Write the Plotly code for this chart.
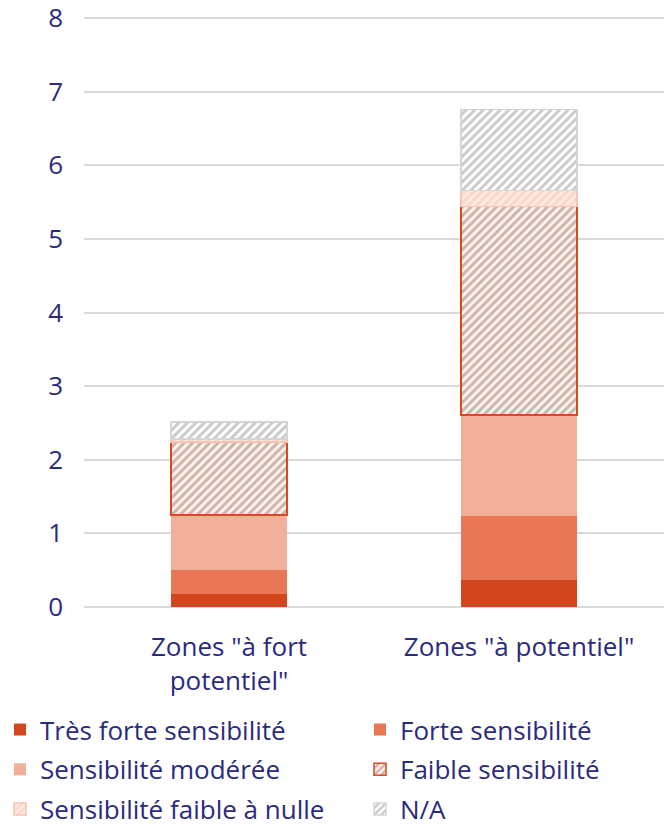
import plotly.graph_objects as go

categories = ['Zones "à fort<br>potentiel"', 'Zones "à potentiel"']
tres_forte = [0.18, 0.37]
forte = [0.32, 0.87]
moderee = [0.75, 1.37]
faible = [0.99, 2.83]
faible_nulle = [0.04, 0.22]
na = [0.23, 1.10]
y_ticks = [0, 1, 2, 3, 4, 5, 6, 7, 8]

TXT = "#2B2A7E"
FONT = "'Open Sans', sans-serif"
FS = 26

series = [
    ("Très forte sensibilité", tres_forte, "legend", dict(color="#D1461D", line=dict(width=0))),
    ("Forte sensibilité", forte, "legend2", dict(color="#E87756", line=dict(width=0))),
    ("Sensibilité modérée", moderee, "legend", dict(color="#F2AF9A", line=dict(width=0))),
    ("Faible sensibilité", faible, "legend2", dict(color="#FFF3E8",
        pattern=dict(shape="/", fgcolor="#957872", bgcolor="#FFF3EA", size=6, solidity=0.5),
        line=dict(width=1.5, color="#D84A20"))),
    ("Sensibilité faible à nulle", faible_nulle, "legend", dict(color="#FCE5DC",
        pattern=dict(shape="/", fgcolor="#FFFFFF", bgcolor="#FAD8CB", size=6, solidity=0.45),
        line=dict(width=1.5, color="#F8C3B2"))),
    ("N/A", na, "legend2", dict(color="#FFFFFF",
        pattern=dict(shape="/", fgcolor="#959595", bgcolor="#FFFFFF", size=6, solidity=0.5),
        line=dict(width=1.5, color="#D5D5D5"))),
]

fig = go.Figure()
for name, vals, lg, marker in series:
    fig.add_trace(go.Bar(x=categories, y=vals, name=name, marker=marker, width=0.4,
                         legend=lg, legendgroup=name))

leg_common = dict(orientation="v", yanchor="top", xanchor="left", traceorder="grouped",
                  tracegroupgap=3, font=dict(size=FS, color=TXT, family=FONT),
                  bgcolor="rgba(0,0,0,0)")
fig.update_layout(
    barmode="stack",
    width=668, height=827,
    margin=dict(l=84, r=4, t=17, b=220, autoexpand=False),
    paper_bgcolor="white", plot_bgcolor="white",
    font=dict(family=FONT, size=FS, color=TXT),
    showlegend=True,
    legend=dict(x=-84 / 580, y=-0.168, **leg_common),
    legend2=dict(x=(360 - 84) / 580, y=-0.168, **leg_common),
)
fig.update_xaxes(range=[-0.5, 1.5], showgrid=False, showline=False, ticks="",
                 automargin=False,
                 ticklabelstandoff=22, tickfont=dict(size=FS, color=TXT))
fig.update_yaxes(range=[0, 8.015], tickvals=y_ticks, showgrid=True, gridcolor="#D9D9D9",
                 gridwidth=2, zeroline=True, zerolinecolor="#D9D9D9", zerolinewidth=2,
                 showline=False, ticks="", ticklabelstandoff=20, automargin=False,
                 ticklabeloverflow="allow",
                 tickfont=dict(size=FS, color=TXT))

fig.write_html("out.html", config={"displayModeBar": False},
               post_script="document.body.style.margin='0px';")
